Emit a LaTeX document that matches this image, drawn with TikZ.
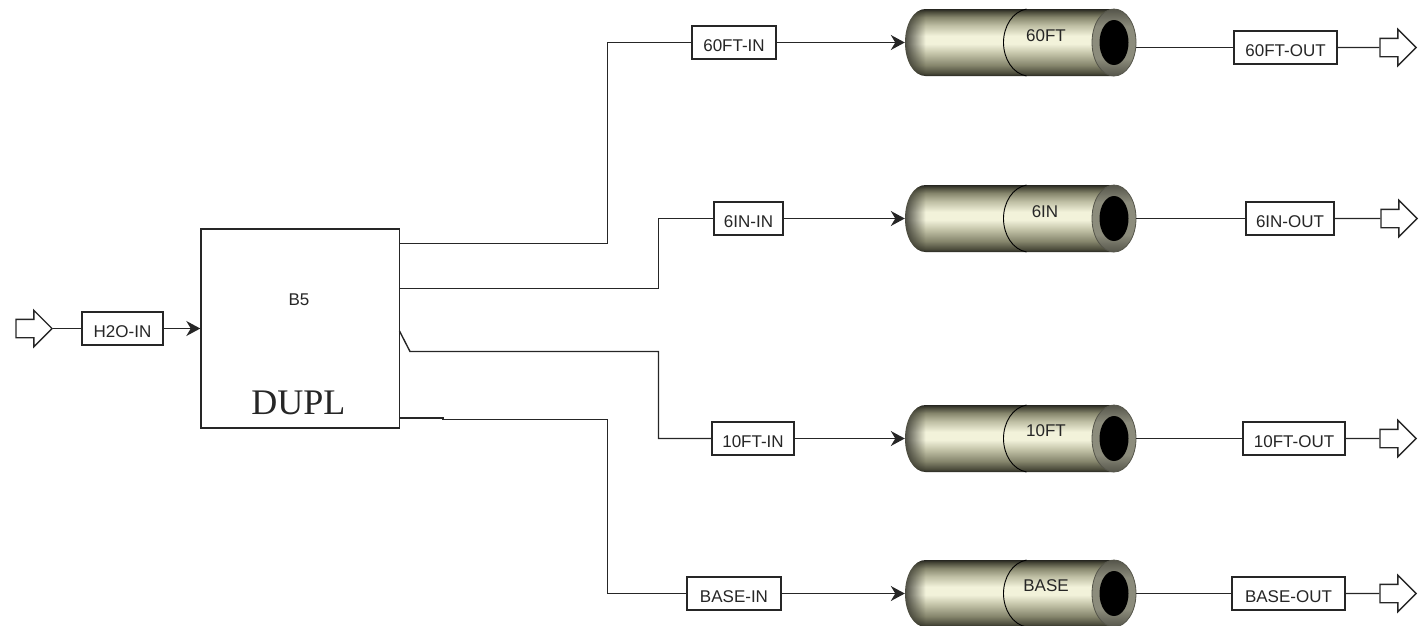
\documentclass[tikz,border=0pt]{standalone}
\usepackage{fontspec}
\setmainfont{Liberation Sans}
\newfontfamily\serifface{Liberation Serif}
\usetikzlibrary{arrows.meta,shapes.arrows,fadings}
\definecolor{inkc}{HTML}{262626}
\definecolor{olivegrayA}{HTML}{F2F2DA}
\definecolor{olivegrayB}{HTML}{BDBDA2}
\definecolor{olivegrayC}{HTML}{85856C}
\definecolor{olivegrayD}{HTML}{4A4A3A}
\definecolor{ringo}{HTML}{55554A}
\definecolor{ringm}{HTML}{8C8C7C}
\definecolor{vdark}{HTML}{262620}
\pgfdeclareverticalshading{vesselbody}{100bp}{
 color(0bp)=(vdark); color(25bp)=(vdark); color(27bp)=(olivegrayD);
 color(33bp)=(olivegrayC); color(41bp)=(olivegrayB); color(49bp)=(olivegrayA); color(55bp)=(olivegrayA);
 color(63bp)=(olivegrayB); color(69bp)=(olivegrayC); color(73bp)=(olivegrayD); color(75bp)=(vdark); color(100bp)=(vdark)}
\pgfdeclareverticalshading{vesselring}{100bp}{
 color(0bp)=(ringo); color(25bp)=(ringo);
 color(38bp)=(ringm); color(62bp)=(ringm); color(75bp)=(ringo); color(100bp)=(ringo)}
\tikzset{
 x=1pt,y=-1pt,
 line/.style={draw=inkc,line width=1.4pt},
 flow/.style={line,-{Stealth[length=14pt,width=15pt,inset=4.5pt]}},
 tagbox/.style={draw=inkc,line width=1.4pt,fill=white,inner sep=0pt,minimum height=33pt,text height=18pt,text depth=0pt,font=\fontsize{17}{19}\selectfont,text=inkc},
 portarrow/.style={draw=inkc,line width=1.4pt,fill=white,single arrow,inner sep=0pt,text height=17pt,text depth=0pt,text width=0pt,minimum width=35pt,minimum height=36pt,single arrow head extend=9pt,single arrow tip angle=90},
 vesselbox/.style={inner sep=0pt,minimum width=231pt,minimum height=67pt},
 vessellabel/.style={inner sep=0pt,font=\fontsize{17}{19}\selectfont,text=inkc},
}
\newcommand{\vesselart}[2]{%
 \begin{scope}[shift={(#1,#2)}]
  \shade[shading=vesselbody] (-95,-33.5) -- (93.5,-33.5) -- (93.5,33.5) -- (-95,33.5)
    .. controls (-107,33.5) and (-115.5,18) .. (-115.5,0)
    .. controls (-115.5,-18) and (-107,-33.5) .. (-95,-33.5) -- cycle;
  \fill[vdark,opacity=.8,path fading=east] (-95,-33.5)
    .. controls (-107,-33.5) and (-115.5,-18) .. (-115.5,0)
    .. controls (-115.5,18) and (-107,33.5) .. (-95,33.5) -- cycle;
  \draw[black,line width=.9pt] (6,-33.5) .. controls (-8,-31) and (-17,-16) .. (-17,0)
    .. controls (-17,16) and (-8,31) .. (6,33.5);
  \shade[shading=vesselring] (93.5,0) ellipse [x radius=22,y radius=33.5];
  \draw[ringo,line width=.8pt] (93.5,0) ellipse [x radius=22,y radius=33.5];
  \fill[black] (93.5,0) ellipse [x radius=14.5,y radius=22.5];
 \end{scope}}
\begin{document}
\begin{tikzpicture}
\useasboundingbox (0,0) rectangle (1425,625);
% vessels
\vesselart{1020.5}{42.5}
\vesselart{1020.5}{218.5}
\vesselart{1020.5}{438.5}
\vesselart{1020.5}{593.5}
\node[vesselbox] (v60) at (1020.5,42.5) {};
\node[vesselbox] (v6) at (1020.5,218.5) {};
\node[vesselbox] (v10) at (1020.5,438.5) {};
\node[vesselbox] (vb) at (1020.5,593.5) {};
\node[vessellabel] (l60) at (1046,36) {60FT};
\node[vessellabel] (l6) at (1045,212) {6IN};
\node[vessellabel] (l10) at (1046,431) {10FT};
\node[vessellabel] (lb) at (1046,586) {BASE};
% duplicator
\node[draw=inkc,line width=1.4pt,fill=white,minimum width=198.5pt,minimum height=199pt,inner sep=0pt] (b5) at (300.25,328.5) {};
\node[vessellabel] (b5l) at (299,300) {B5};
\node[inner sep=0pt,font=\serifface\fontsize{36}{40}\selectfont,text=inkc] (dupl) at (298.5,403) {DUPL};
% feed
\node[portarrow,anchor=tip] (pin) at (53,328.5) {};
\node[tagbox,minimum width=81pt] (h2o) at (122.5,328.5) {H2O-IN};
\draw[line] (pin.tip) -- (h2o.west);
\draw[flow] (h2o.east) -- (b5.west |- h2o.east);
% stream tags in
\node[tagbox,minimum width=84pt] (t60i) at (734,42.5) {60FT-IN};
\node[tagbox,minimum width=69pt] (t6i) at (748.5,218.5) {6IN-IN};
\node[tagbox,minimum width=82pt] (t10i) at (753,438.5) {10FT-IN};
\node[tagbox,minimum width=94pt] (tbi) at (734,593.5) {BASE-IN};
% stream tags out
\node[tagbox,minimum width=103pt] (t60o) at (1285.5,47.5) {60FT-OUT};
\node[tagbox,minimum width=88pt] (t6o) at (1290,218.5) {6IN-OUT};
\node[tagbox,minimum width=102pt] (t10o) at (1294,438.5) {10FT-OUT};
\node[tagbox,minimum width=113pt] (tbo) at (1288.5,593.5) {BASE-OUT};
% outlet ports
\node[portarrow,anchor=tip] (p60) at (1417,47.5) {};
\node[portarrow,anchor=tip] (p6) at (1418,218.5) {};
\node[portarrow,anchor=tip] (p10) at (1417,438.5) {};
\node[portarrow,anchor=tip] (pb) at (1417,593.5) {};
% block outlets and bends
\coordinate (o60) at (399.5,243.5);
\coordinate (o6) at (399.5,288.5);
\coordinate (o10) at (399.5,331);
\coordinate (k10) at (410,351.5);
\coordinate (ob) at (399.5,418);
\coordinate (kb1) at (443,418);
\coordinate (kb2) at (443,419.5);
% feeds
\draw[line] (o60) -| (607.5,42.5) -- (t60i.west);
\draw[line] (o6) -| (658.5,218.5) -- (t6i.west);
\draw[line] (o10) -- (k10) -| (658.5,438.5) -- (t10i.west);
\draw[line] (ob) -- (kb1) -- (kb2) -| (607.5,593.5) -- (tbi.west);
% into vessels
\draw[flow] (t60i.east) -- (v60.west |- t60i.east);
\draw[flow] (t6i.east) -- (v6.west |- t6i.east);
\draw[flow] (t10i.east) -- (v10.west |- t10i.east);
\draw[flow] (tbi.east) -- (vb.west |- tbi.east);
% out of vessels
\draw[line] (v60.east |- t60o.west) -- (t60o.west);
\draw[line] (v6.east |- t6o.west) -- (t6o.west);
\draw[line] (v10.east |- t10o.west) -- (t10o.west);
\draw[line] (vb.east |- tbo.west) -- (tbo.west);
\draw[line] (t60o.east) -- (p60.west);
\draw[line] (t6o.east) -- (p6.west);
\draw[line] (t10o.east) -- (p10.west);
\draw[line] (tbo.east) -- (pb.west);
\end{tikzpicture}
\end{document}
